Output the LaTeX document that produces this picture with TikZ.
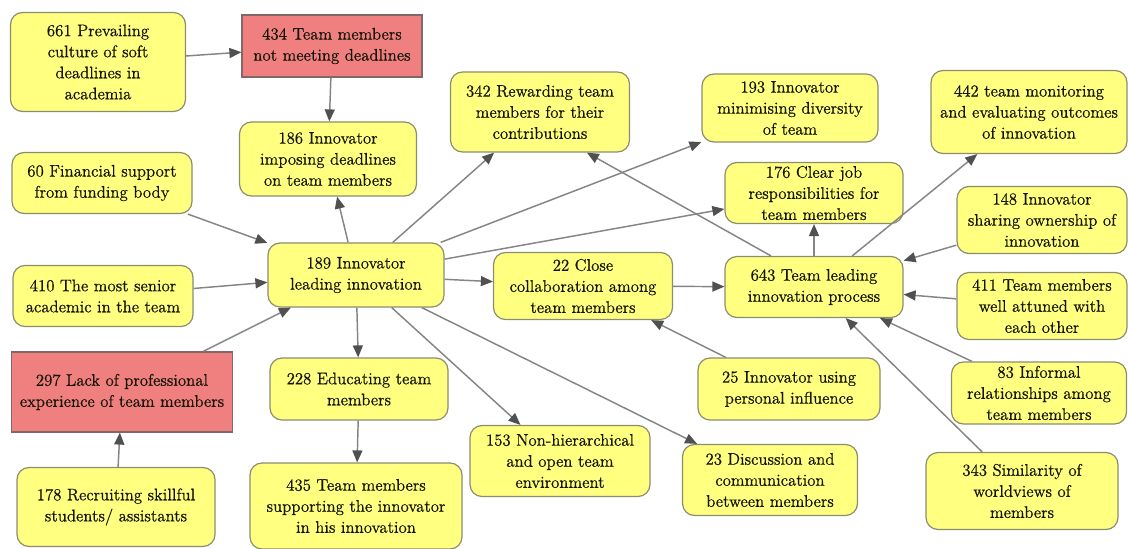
\documentclass[tikz,border=0pt]{standalone}
\usepackage{fontspec}
\newfontfamily\labelfont{Latin Modern Roman}[FakeBold=0.6]
\usetikzlibrary{arrows.meta,calc}

\definecolor{boxfill}{HTML}{FFFF80}
\definecolor{boxline}{HTML}{8C8C70}
\definecolor{redfill}{HTML}{F08080}
\definecolor{redline}{HTML}{7F6868}
\definecolor{edgecol}{HTML}{858585}
\definecolor{tipcol}{HTML}{505050}
\definecolor{txt}{HTML}{141408}

\tikzset{
  factor/.style={draw=boxline, fill=boxfill, line width=0.9pt,
    rounded corners=9pt, align=center, inner sep=2pt, text=txt,
    font=\labelfont\fontsize{12.6}{15.8}\selectfont},
  problem/.style={factor, draw=redline, fill=redfill, rounded corners=0pt},
  sz/.style 2 args={minimum width=#1*0.75pt, minimum height=#2*0.75pt},
  arr/.style={draw=edgecol, line width=1.1pt,
    -{Triangle[length=9pt,width=7.5pt,fill=tipcol,color=tipcol]}}
}

\begin{document}
\begin{tikzpicture}[x=0.75pt,y=-0.75pt]
\useasboundingbox (0,0) rectangle (1128,549);

% left column
\node[factor,sz={175}{99}] (n661) at (98,62) {661 Prevailing\\culture of soft\\deadlines in\\academia};
\node[factor,sz={180}{61}] (n60) at (102,183) {60 Financial support\\from funding body};
\node[factor,sz={180}{61}] (n410) at (103,296) {410 The most senior\\academic in the team};
\node[problem,sz={221}{80}] (n297) at (122,392) {297 Lack of professional\\experience of team members};
\node[factor,sz={198}{79}] (n178) at (116,507) {178 Recruiting skillful\\students/ assistants};

% second column
\node[problem,sz={180}{62}] (n434) at (332,46) {434 Team members\\not meeting deadlines};
\node[factor,sz={177}{74}] (n186) at (328,159) {186 Innovator\\imposing deadlines\\on team members};
\node[factor,sz={176}{64}] (n189) at (356,275) {189 Innovator\\leading innovation};
\node[factor,sz={178}{62}] (n228) at (359,389) {228 Educating team\\members};
\node[factor,sz={212}{86}] (n435) at (356,506) {435 Team members\\supporting the innovator\\in his innovation};

% middle column
\node[factor,sz={179}{80}] (n342) at (540,112) {342 Rewarding team\\members for their\\contributions};
\node[factor,sz={179}{67}] (n22) at (583,286) {22 Close\\collaboration among\\team members};
\node[factor,sz={180}{71}] (n153) at (560,461) {153 Non-hierarchical\\and open team\\environment};

% fourth column
\node[factor,sz={176}{68}] (n193) at (790,108) {193 Innovator\\minimising diversity\\of team};
\node[factor,sz={178}{61}] (n176) at (814,193) {176 Clear job\\responsibilities for\\team members};
\node[factor,sz={178}{61}] (n643) at (814,287) {643 Team leading\\innovation process};
\node[factor,sz={182}{62}] (n25) at (789,389) {25 Innovator using\\personal influence};
\node[factor,sz={175}{71}] (n23) at (770,480) {23 Discussion and\\communication\\between members};

% right column
\node[factor,sz={196}{83}] (n442) at (1029,112) {442 team monitoring\\and evaluating outcomes\\of innovation};
\node[factor,sz={170}{67}] (n148) at (1042,220) {148 Innovator\\sharing ownership of\\innovation};
\node[factor,sz={170}{67}] (n411) at (1042,306) {411 Team members\\well attuned with\\each other};
\node[factor,sz={175}{62}] (n83) at (1039,393) {83 Informal\\relationships among\\team members};
\node[factor,sz={192}{77}] (n343) at (1022,491) {343 Similarity of\\worldviews of\\members};

% influences
\draw[arr] (n661) -- (n434);
\draw[arr] (n434) -- (n186);
\draw[arr] (n189) -- (n186);
\draw[arr] (n60) -- (n189);
\draw[arr] (n410) -- (n189);
\draw[arr] (n297) -- (n189);
\draw[arr] (n178) -- (n297);
\draw[arr] (n189) -- (n228);
\draw[arr] (n228) -- (n435);
\draw[arr] (n189) -- (n153);
\draw[arr] (n189) -- (n23);
\draw[arr] (n189) -- (n22);
\draw[arr] (n189) -- (n342);
\draw[arr] (n189) -- (n193);
\draw[arr] (n189) -- (n176);
\draw[arr] (n22) -- (n643);
\draw[arr] (n25) -- (n22);
\draw[arr] (n643) -- (n176);
\draw[arr] ($(n643.north west)!0.26!(n643.north east)$) -- ($(n342.south west)!0.76!(n342.south east)$);
\draw[arr] (n643) -- (n442);
\draw[arr] (n148) -- (n643);
\draw[arr] (n411) -- (n643);
\draw[arr] (n83) -- (n643);
\draw[arr] (n343) -- (n643);
\end{tikzpicture}
\end{document}
